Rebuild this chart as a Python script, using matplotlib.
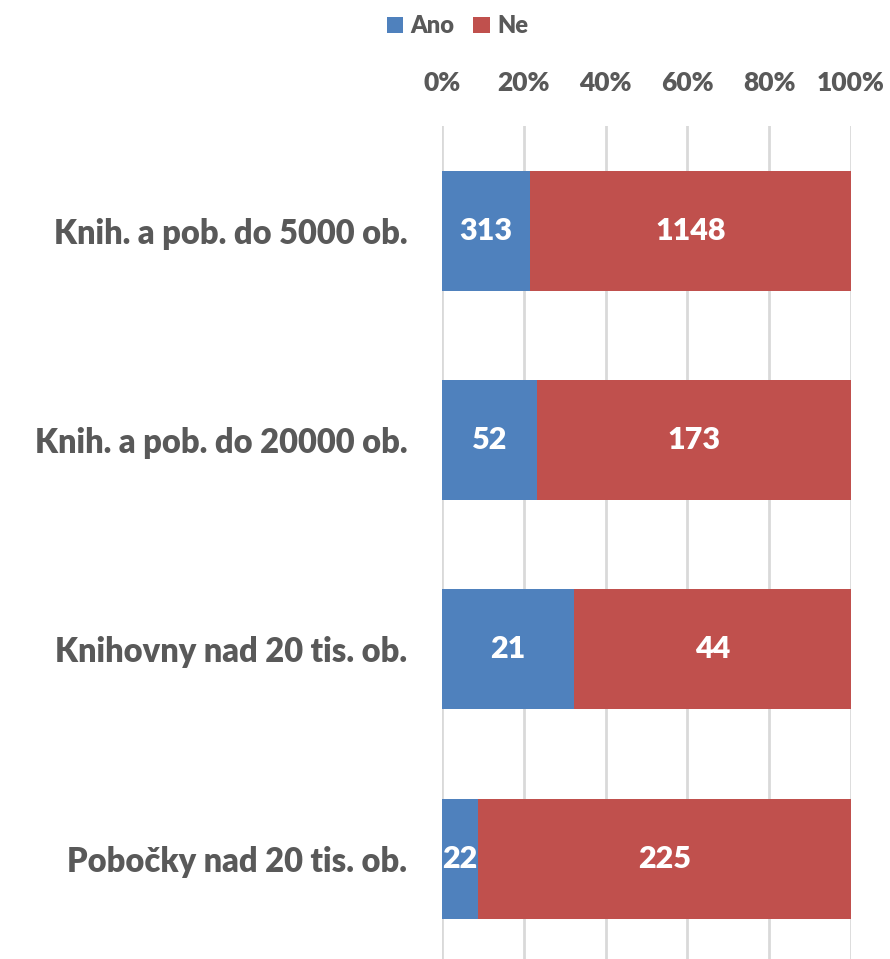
import numpy as np
import matplotlib.pyplot as plt
from matplotlib.ticker import PercentFormatter

categories = ['Knih. a pob. do 5000 ob.', 'Knih. a pob. do 20000 ob.',
              'Knihovny nad 20 tis. ob.', 'Pobočky nad 20 tis. ob.']
ano = [313, 52, 21, 22]
ne = [1148, 173, 44, 225]
series = ['Ano', 'Ne']
colors = ['#4F81BD', '#C0504D']
gray = '#595959'

plt.rcParams['font.family'] = ['Lato', 'DejaVu Sans']
plt.rcParams['font.weight'] = 'heavy'

ano = np.array(ano, dtype=float)
ne = np.array(ne, dtype=float)
tot = ano + ne
pa = ano / tot * 100
pn = ne / tot * 100

fig = plt.figure(figsize=(8.9, 9.59), dpi=100)
ax = fig.add_axes([0.4966, 0.0, 0.4596, 0.8686])

y = np.arange(len(categories))
b1 = ax.barh(y, pa, height=0.573, color=colors[0], label=series[0], zorder=2)
b2 = ax.barh(y, pn, left=pa, height=0.573, color=colors[1], label=series[1], zorder=2)

# hodnoty do sloupcu
for i in range(len(categories)):
    ax.text(pa[i] / 2, y[i], f'{int(ano[i])}', ha='center', va='center',
            color='white', fontsize=22, fontweight='heavy', zorder=3)
    ax.text(pa[i] + pn[i] / 2, y[i], f'{int(ne[i])}', ha='center', va='center',
            color='white', fontsize=22, fontweight='heavy', zorder=3)

ax.set_xlim(0, 100)
ax.set_ylim(3.48, -0.5)
ax.set_yticks(y)
ax.set_yticklabels(categories, fontsize=23.5, color=gray, fontweight='heavy')
ax.set_xticks(np.arange(0, 101, 20))
ax.xaxis.set_major_formatter(PercentFormatter(decimals=0))
ax.xaxis.tick_top()
ax.tick_params(axis='x', length=0, pad=22, labelsize=19, labelcolor=gray)
ax.tick_params(axis='y', length=0, pad=25)
for s in ax.spines.values():
    s.set_visible(False)
ax.grid(axis='x', color='#D9D9D9', linewidth=2, zorder=0)
ax.set_axisbelow(True)

fig.legend(handles=[b1, b2], loc='upper center', bbox_to_anchor=(0.514, 1.006),
           ncol=2, frameon=False, fontsize=17, handlelength=0.7, handleheight=0.7,
           handletextpad=0.3, columnspacing=0.8, labelcolor=gray)

fig.savefig('out.png', dpi=100)
